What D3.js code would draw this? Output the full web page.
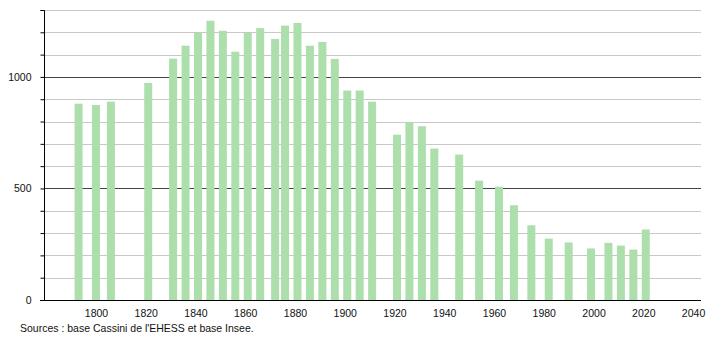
<!DOCTYPE html>
<html>
<head>
<meta charset="utf-8">
<script src="https://cdn.jsdelivr.net/npm/d3@7"></script>
<style>
  body { margin: 0; background: #fff; }
  text { font-family: "Liberation Sans", Arial, sans-serif; font-size: 10.5px; fill: #111; }
</style>
</head>
<body>
<div id="chart-area"></div>
<script>
const years = [1793, 1800, 1806, 1821, 1831, 1836, 1841, 1846, 1851, 1856, 1861, 1866, 1872, 1876, 1881, 1886,
    1891, 1896, 1901, 1906, 1911, 1921, 1926, 1931, 1936, 1946, 1954, 1962, 1968, 1975, 1982, 1990,
    1999, 2006, 2011, 2016, 2021];
const population = [880, 874, 889, 973, 1082, 1140, 1197, 1252, 1207, 1113, 1197, 1219, 1170, 1230, 1242, 1140,
    1157, 1081, 939, 939, 889, 741, 797, 779, 679, 652, 535, 508, 425, 335, 275, 258,
    231, 256, 244, 226, 316];
const yTicks = [0, 500, 1000];
const xTicks = [1800, 1820, 1840, 1860, 1880, 1900, 1920, 1940, 1960, 1980, 2000, 2020, 2040];
const source = "Sources : base Cassini de l'EHESS et base Insee.";

const drawChart = () => {
    const svg = d3.select("#chart-area").append("svg")
        .attr("width", 710)
        .attr("height", 340);

    const plot = { left: 44, right: 701, top: 10, bottom: 300 };

    const x = d3.scaleLinear().domain([1779.1, 2043.2]).range([plot.left, plot.right]);
    const y = d3.scaleLinear().domain([0, 1300]).range([plot.bottom, plot.top]);

    // grid
    const minor = d3.range(100, 1301, 100);
    svg.append("g").selectAll("line").data(minor).enter().append("line")
        .attr("x1", plot.left)
        .attr("x2", plot.right)
        .attr("y1", d => Math.round(y(d)) + 0.5)
        .attr("y2", d => Math.round(y(d)) + 0.5)
        .attr("stroke", d => d % 500 === 0 ? "#444" : "#c8c8c8")
        .attr("stroke-width", 1);

    // bars
    const bw = 8;
    svg.append("g").selectAll("rect").data(years).enter().append("rect")
        .attr("x", d => x(d) - bw / 2)
        .attr("y", (d, i) => y(population[i]))
        .attr("width", bw)
        .attr("height", (d, i) => y(0) - y(population[i]))
        .attr("fill", "#addfad");

    // y axis
    const yAxis = d3.axisLeft(y).tickValues(d3.range(0, 1301, 100)).tickSize(4)
        .tickFormat(d => yTicks.includes(d) ? d : "");
    const gy = svg.append("g")
        .attr("transform", `translate(${plot.left + 0.5},0)`)
        .call(yAxis);
    gy.select(".domain").attr("stroke", "#000").attr("d", `M-4,${plot.top + 0.5}H0V${plot.bottom}`);
    gy.selectAll(".tick line").attr("stroke", "#000");
    gy.selectAll(".tick text")
        .attr("x", -13)
        .style("font-family", "Liberation Sans, Arial, sans-serif")
        .style("font-size", "10.5px")
        .attr("fill", "#111");

    // x axis
    const xAxis = d3.axisBottom(x).tickValues(xTicks).tickSize(0).tickFormat(d => d);
    const gx = svg.append("g")
        .attr("transform", `translate(0,${plot.bottom + 0.5})`)
        .call(xAxis);
    gx.select(".domain").attr("stroke", "#000").attr("d", `M${plot.left - 4},0H${plot.right}`);
    gx.selectAll(".tick text")
        .attr("y", 9)
        .style("font-family", "Liberation Sans, Arial, sans-serif")
        .style("font-size", "10.5px")
        .attr("fill", "#111");

    svg.append("text")
        .attr("x", 20)
        .attr("y", 332)
        .text(source);
};

window.onload = drawChart;
</script>
</body>
</html>
